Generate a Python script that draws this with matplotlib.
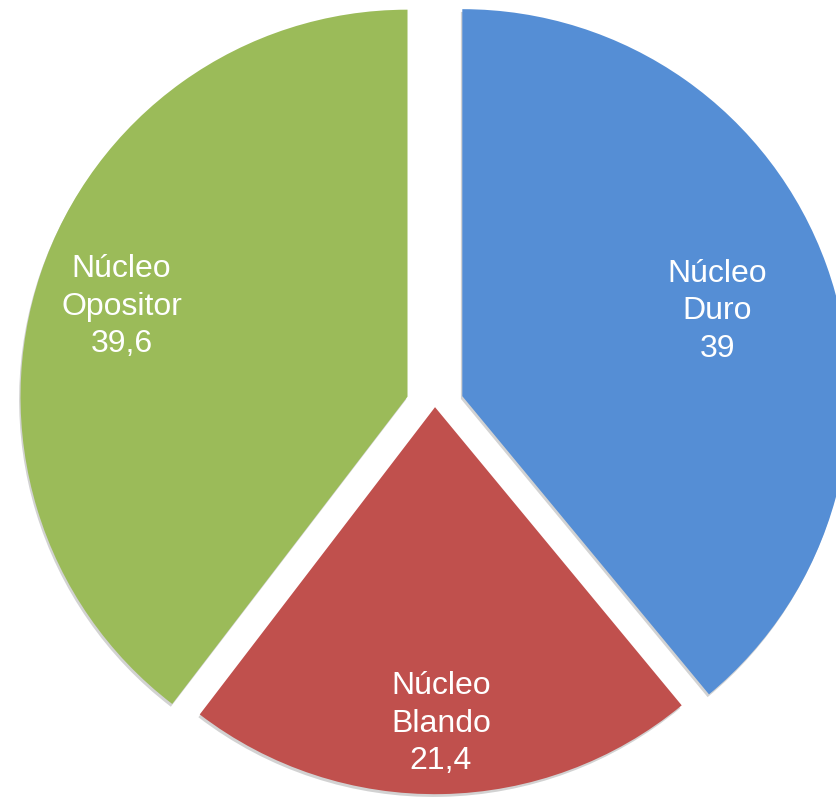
import numpy as np
import matplotlib
matplotlib.use("Agg")
import matplotlib.pyplot as plt
import matplotlib.patheffects as pe

# Data
categories = ["Núcleo\nDuro", "Núcleo\nBlando", "Núcleo\nOpositor"]
values = [39, 21.4, 39.6]
value_labels = ["39", "21,4", "39,6"]

# Style
colors = ["#558ED5", "#C0504D", "#9BBB59"]
R = 387
# explode offsets as a fraction of the radius (converted to data units below)
explode_frac = [0.075, 0.003, 0.075]
label_dist = [0.70, 0.81, 0.78]
label_drop = [7, 3, 7]  # small downward nudge of the label block (px)

W, H = 836, 797
fig = plt.figure(figsize=(W / 100, H / 100), dpi=100)
ax = fig.add_axes([0, 0, 1, 1])

center = (435, H - 406)
wedges, _ = ax.pie(values, colors=colors, explode=[e * R for e in explode_frac],
                   startangle=90, counterclock=False, radius=R, center=center,
                   wedgeprops=dict(linewidth=0))
for w in wedges:
    w.set_path_effects([pe.SimplePatchShadow(offset=(-1, -2), shadow_rgbFace="#808080", alpha=0.35),
                        pe.Normal()])

for w, cat, vl, d, dy in zip(wedges, categories, value_labels, label_dist, label_drop):
    ang = np.deg2rad((w.theta1 + w.theta2) / 2)
    x = w.center[0] + d * R * np.cos(ang)
    y = w.center[1] + d * R * np.sin(ang) - dy
    ax.text(x, y, f"{cat}\n{vl}", ha="center", va="center", color="white",
            fontsize=23, family=["Liberation Sans", "DejaVu Sans"], linespacing=1.32)

ax.set_xlim(0, W)
ax.set_ylim(0, H)
ax.set_aspect("auto")
ax.axis("off")

fig.savefig("out.png", dpi=100, facecolor="white")
